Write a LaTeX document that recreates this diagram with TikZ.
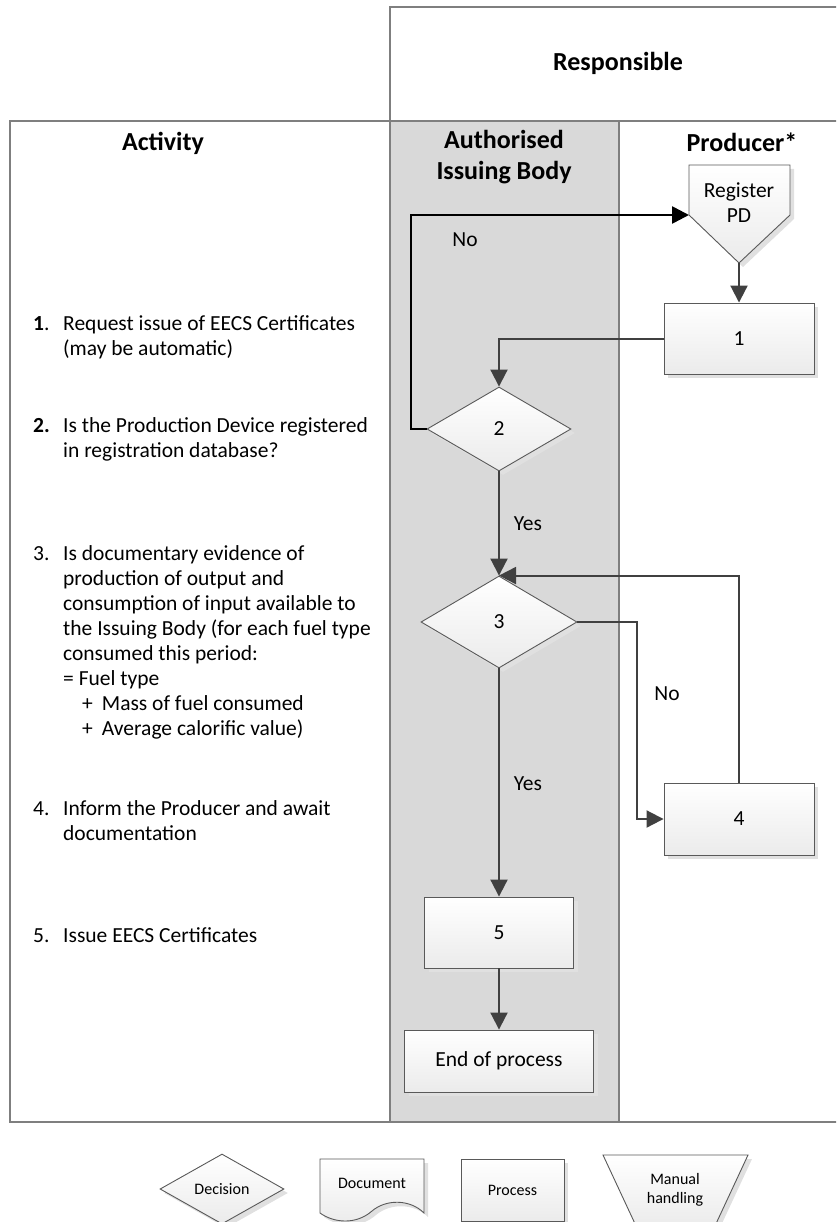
\documentclass[tikz,border=0pt]{standalone}
\usepackage{fontspec}
\setmainfont{Carlito}
\usetikzlibrary{arrows.meta,shapes.geometric,shadows}

\definecolor{lanegray}{HTML}{D9D9D9}
\definecolor{linegray}{HTML}{404040}
\definecolor{edgegray}{HTML}{595959}
\definecolor{framegray}{HTML}{7F7F7F}
\definecolor{boxgray}{HTML}{EBEBEB}

\newcommand\txtfont{\fontsize{21.5}{25}\selectfont}
\newcommand\headfont{\fontsize{26}{31}\selectfont\bfseries}
\newcommand\legfont{\fontsize{16}{19.5}\selectfont}
\newcommand\actlines[1]{\begin{tabular}[t]{@{}l@{}}#1\end{tabular}}

\tikzset{
  boxfill/.style={top color=white, bottom color=boxgray,
    drop shadow={shadow xshift=4pt, shadow yshift=-4pt, fill=black!12, opacity=1}},
  procbox/.style={draw=edgegray, line width=0.9pt, boxfill, font=\txtfont, inner sep=0pt},
  decbox/.style={diamond, draw=edgegray, line width=0.9pt, boxfill, font=\txtfont, inner sep=0pt},
  flowarrow/.style={draw=linegray, line width=2pt, -{Triangle[length=17pt,width=17pt]}},
  noline/.style={draw=black, line width=2.6pt, -{Triangle[length=17pt,width=17pt]}},
  frame/.style={draw=framegray, line width=1.3pt},
  head/.style={font=\headfont, align=center, inner sep=0pt},
  lbl/.style={font=\txtfont, inner sep=0pt},
  actnum/.style={anchor=base west, font=\txtfont, inner sep=0pt},
  acttext/.style={anchor=base west, font=\txtfont, inner sep=0pt},
  legend/.style={font=\legfont, align=center, inner sep=0pt}
}

\begin{document}
\begin{tikzpicture}[x=1pt,y=-1pt]
      \useasboundingbox (0,0) rectangle (836,1222);
      \clip (0,0) rectangle (836,1222);

      % lanes
      \fill[lanegray] (390,121) rectangle (619,1122);
      \draw[frame] (10,121) rectangle (860,1122);
      \draw[frame] (390,121) -- (390,7) -- (860,7);
      \draw[frame] (390,121) -- (390,1122);
      \draw[frame] (619,121) -- (619,1122);

      \node[head] (hresp) at (618,63) {Responsible};
      \node[head] (hact) at (163,143) {Activity};
      \node[head] (haib) at (504,157.5) {Authorised\\Issuing Body};
      \node[head] (hprod) at (742,142) {Producer*};

      % activity list
      \node[actnum] (n1) at (33,330) {\textbf{1}.};
      \node[acttext] (a1) at (63,330) {\actlines{Request issue of EECS Certificates\\(may be automatic)}};
      \node[actnum] (n2) at (33,432) {\textbf{2.}};
      \node[acttext] (a2) at (63,432) {\actlines{Is the Production Device registered\\in registration database?}};
      \node[actnum] (n3) at (33,560) {3.};
      \node[acttext] (a3) at (63,560) {\actlines{Is documentary evidence of\\production of output and\\consumption of input available to\\the Issuing Body (for each fuel type\\consumed this period:\\= Fuel type\\\hspace*{19pt}+\hspace{9pt}Mass of fuel consumed\\\hspace*{19pt}+\hspace{9pt}Average calorific value)}};
      \node[actnum] (n4) at (33,815) {4.};
      \node[acttext] (a4) at (63,815) {\actlines{Inform the Producer and await\\documentation}};
      \node[actnum] (n5) at (33,942) {5.};
      \node[acttext] (a5) at (63,942) {Issue EECS Certificates};

      % flow
      \coordinate (pdleft) at (689,215);
      \coordinate (pdtip) at (739,263);
      \draw[draw=edgegray, line width=0.9pt, boxfill] (689,165) -- (790,165) -- (790,215) -- (pdtip) -- (pdleft) -- cycle;
      \node[lbl, align=center] (pd) at (739,203) {Register\\PD};

      \node[procbox, minimum width=150pt, minimum height=71pt] (b1) at (739,338.5) {1};
      \node[decbox, minimum width=144pt, minimum height=84pt] (d2) at (499,429) {2};
      \node[decbox, minimum width=156pt, minimum height=92pt] (d3) at (499,622) {3};
      \node[procbox, minimum width=150pt, minimum height=72pt] (b4) at (739,819) {4};
      \node[procbox, minimum width=149pt, minimum height=71pt] (b5) at (499,932.5) {5};
      \node[procbox, minimum width=189pt, minimum height=62pt] (endp) at (499,1061) {End of process};

      \coordinate (nobend) at (411,215);
      \draw[noline] (d2.west) -| (nobend) -- (pdleft);
      \draw[flowarrow] (pdtip) -- (b1.north);
      \draw[flowarrow] (b1.west) -| (d2.north);
      \draw[flowarrow] (d2.south) -- (d3.north);
      \draw[flowarrow] (d3.east) -- ++(60,0) |- (b4.west);
      \draw[flowarrow] (b4.north) |- (d3.north);
      \draw[flowarrow] (d3.south) -- (b5.north);
      \draw[flowarrow] (b5.south) -- (endp.north);

      \node[lbl] (no1) at (465,240) {No};
      \node[lbl] (yes1) at (528,524) {Yes};
      \node[lbl] (no2) at (667,694) {No};
      \node[lbl] (yes2) at (528,784) {Yes};

      % legend
      \node[decbox, font=\legfont, minimum width=124pt, minimum height=70pt] (legdec) at (222,1189) {Decision};
      \draw[draw=edgegray, line width=0.9pt, boxfill] (320,1159) -- (424,1159) -- (424,1213)
        .. controls (410,1199) and (386,1199) .. (372,1211)
        .. controls (356,1225) and (334,1223) .. (320,1213) -- cycle;
      \node[legend] (legdoc) at (372,1183) {Document};
      \node[procbox, font=\legfont, minimum width=103pt, minimum height=62pt] (legproc) at (512.5,1190) {Process};
      \draw[draw=edgegray, line width=0.9pt, boxfill] (603,1155) -- (748,1155) -- (714,1228) -- (637,1228) -- cycle;
      \node[legend] (legman) at (675,1190) {Manual\\handling};
\end{tikzpicture}
\end{document}
